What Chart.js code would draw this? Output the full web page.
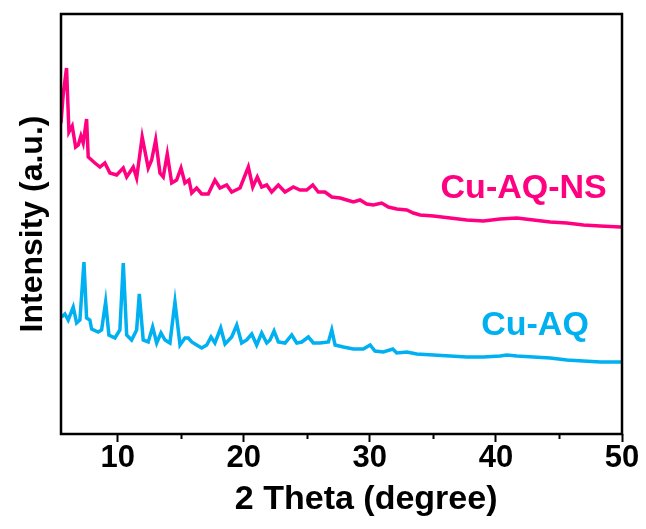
<!DOCTYPE html>
<html>
<head>
<meta charset="utf-8">
<script src="https://cdn.jsdelivr.net/npm/chart.js@4.4.1/dist/chart.umd.min.js"></script>
<style>
  html, body { margin: 0; padding: 0; background: #fff; }
  #wrap { width: 646px; height: 529px; }
</style>
</head>
<body>
<div id="wrap"><canvas id="grafica" width="646" height="529"></canvas></div>
<script>
// 2 Theta (degree) and intensity (a.u.)
const nsTheta = [5.5, 5.67, 5.94, 6.13, 6.39, 6.66, 6.87, 7.08, 7.26, 7.53, 7.66, 8.19, 8.59, 8.98, 9.38, 9.91,
  10.44, 10.71, 11.23, 11.5, 11.94, 12.42, 12.69, 13.01, 13.35, 13.61, 13.93, 14.28, 14.67, 15.02, 15.33, 15.65,
  15.87, 16.26, 16.66, 17.18, 17.71, 18.11, 18.64, 19.04, 19.7, 20.36, 20.71, 21.07, 21.42, 21.82, 22.21, 22.74,
  23.27, 23.93, 24.46, 24.99, 25.47, 25.91, 26.44, 26.98, 27.64, 28.17, 28.69, 29.22, 29.75, 30.28, 30.94, 31.47,
  32.13, 32.93, 33.45, 33.98, 35.04, 36.37, 37.69, 39.01, 40.33, 41.66, 42.98, 44.3, 45.63, 46.94, 48.27, 49.86, 50];
const nsIntensity = [311, 339, 366, 302, 308, 287, 289, 298, 291, 315, 277, 271, 267, 271, 261, 259,
  266, 257, 267, 256, 297, 266, 274, 294, 261, 257, 280, 251, 254, 266, 251, 254,
  241, 246, 240, 240, 254, 246, 249, 242, 246, 267, 247, 257, 247, 249, 242, 249,
  242, 247, 244, 244, 249, 242, 242, 237, 236, 234, 232, 234, 230, 229, 231, 227,
  225, 224, 221, 219, 218, 216, 214, 213, 215, 216, 214, 212, 211, 209, 208, 207, 207];

const aqTheta = [5.55, 5.81, 6.07, 6.47, 6.74, 7.0, 7.32, 7.53, 7.79, 7.93, 8.45, 8.72, 9.04, 9.3, 9.78, 10.17,
  10.44, 10.71, 11.1, 11.5, 11.71, 12.02, 12.42, 12.77, 13.09, 13.43, 13.75, 14.14, 14.54, 14.94, 15.33, 15.6,
  15.87, 16.26, 16.66, 17.06, 17.4, 17.71, 18.17, 18.51, 19.04, 19.44, 19.83, 20.23, 20.63, 21.02, 21.42, 21.82,
  22.08, 22.4, 22.74, 23.27, 23.8, 24.2, 24.6, 25.12, 25.52, 26.05, 26.71, 26.98, 27.24, 27.9, 28.69, 29.48,
  30.02, 30.41, 31.07, 31.82, 32.13, 32.93, 33.72, 35.04, 36.37, 37.69, 39.01, 40.33, 40.87, 41.66, 42.98, 44.3,
  45.63, 46.94, 48.27, 49.86, 50];
const aqIntensity = [117, 120, 114, 127, 111, 114, 172, 116, 114, 105, 102, 104, 132, 99, 96, 104,
  171, 99, 94, 104, 140, 94, 92, 107, 91, 101, 94, 91, 132, 89, 96, 96,
  92, 89, 86, 89, 97, 91, 106, 90, 97, 109, 91, 94, 100, 89, 101, 91,
  94, 103, 92, 91, 99, 91, 92, 97, 91, 91, 92, 104, 89, 87, 85, 85,
  89, 83, 82, 85, 81, 82, 80, 79, 78, 77, 77, 78, 79, 78, 77, 76,
  74, 73, 72, 72, 72];

const seriesNames = ['Cu-AQ-NS', 'Cu-AQ'];
const seriesColors = ['rgb(255, 0, 128)', 'rgb(0, 176, 240)'];
// where each series name sits, in data units (2 Theta, intensity)
const labelTheta = [42.2, 43.1];
const labelIntensity = [245, 108];

const xMin = 5.5, xMax = 50, yMin = 0, yMax = 420;
const majorTicks = [10, 20, 30, 40, 50];
const minorTicks = [15, 25, 35, 45];
const xTitle = '2 Theta (degree)';

const fontFamily = '"Liberation Sans", Arial, sans-serif';

function toPoints(xs, ys) {
    return xs.map((x, i) => ({ x: x, y: ys[i] }));
}

// frame round the plot, short minor ticks, x title and the series names
const extrasPlugin = {
    id: 'extras',
    afterDraw(chart) {
        const ctx = chart.ctx;
        const area = chart.chartArea;
        const xs = chart.scales.x;
        const ys = chart.scales.y;
        ctx.save();
        ctx.strokeStyle = '#000';
        ctx.lineWidth = 2.5;
        ctx.strokeRect(area.left, area.top, area.right - area.left, area.bottom - area.top);

        ctx.lineWidth = 2;
        minorTicks.forEach(v => {
            const px = Math.round(xs.getPixelForValue(v)) + 0.5;
            ctx.beginPath();
            ctx.moveTo(px, area.bottom);
            ctx.lineTo(px, area.bottom + 5);
            ctx.stroke();
        });

        // the original title sits a bit right of the plot centre
        ctx.fillStyle = '#000';
        ctx.font = 'bold 34px ' + fontFamily;
        ctx.textAlign = 'center';
        ctx.textBaseline = 'middle';
        ctx.fillText(xTitle, area.left + (area.right - area.left) * 0.544, area.bottom + 66);

        ctx.font = 'bold 34px ' + fontFamily;
        seriesNames.forEach((name, i) => {
            ctx.fillStyle = seriesColors[i];
            ctx.fillText(name, xs.getPixelForValue(labelTheta[i]), ys.getPixelForValue(labelIntensity[i]));
        });
        ctx.restore();
    }
};

const ctx = document.getElementById('grafica').getContext('2d');
new Chart(ctx, {
    type: 'line',
    data: {
        datasets: [
            {
                label: seriesNames[0],
                data: toPoints(nsTheta, nsIntensity),
                borderColor: seriesColors[0],
                borderWidth: 3.5,
                pointRadius: 0,
                tension: 0
            },
            {
                label: seriesNames[1],
                data: toPoints(aqTheta, aqIntensity),
                borderColor: seriesColors[1],
                borderWidth: 3.5,
                pointRadius: 0,
                tension: 0
            }
        ]
    },
    options: {
        responsive: false,
        animation: false,
        layout: { padding: { left: 12, top: 14, right: 24, bottom: 0 } },
        plugins: {
            legend: { display: false },
            tooltip: { enabled: false }
        },
        scales: {
            x: {
                type: 'linear',
                min: xMin,
                max: xMax,
                afterBuildTicks: (scale) => {
                    scale.ticks = majorTicks.map(v => ({ value: v }));
                },
                afterFit: (scale) => { scale.height = 95; },
                ticks: {
                    color: '#000',
                    font: { family: fontFamily, size: 31, weight: 'bold' },
                    padding: -2,
                    maxRotation: 0
                },
                grid: {
                    drawOnChartArea: false,
                    drawTicks: true,
                    tickLength: 8,
                    tickWidth: 2,
                    tickColor: '#000'
                },
                border: { display: false },
                title: { display: false }
            },
            y: {
                type: 'linear',
                min: yMin,
                max: yMax,
                afterFit: (scale) => { scale.width = 49; },
                ticks: { display: false },
                grid: { display: false, drawTicks: false },
                border: { display: false },
                title: {
                    display: true,
                    text: 'Intensity (a.u.)',
                    color: '#000',
                    font: { family: fontFamily, size: 32, weight: 'bold' },
                    padding: { top: 2, bottom: 0 }
                }
            }
        }
    },
    plugins: [extrasPlugin]
});
</script>
</body>
</html>
